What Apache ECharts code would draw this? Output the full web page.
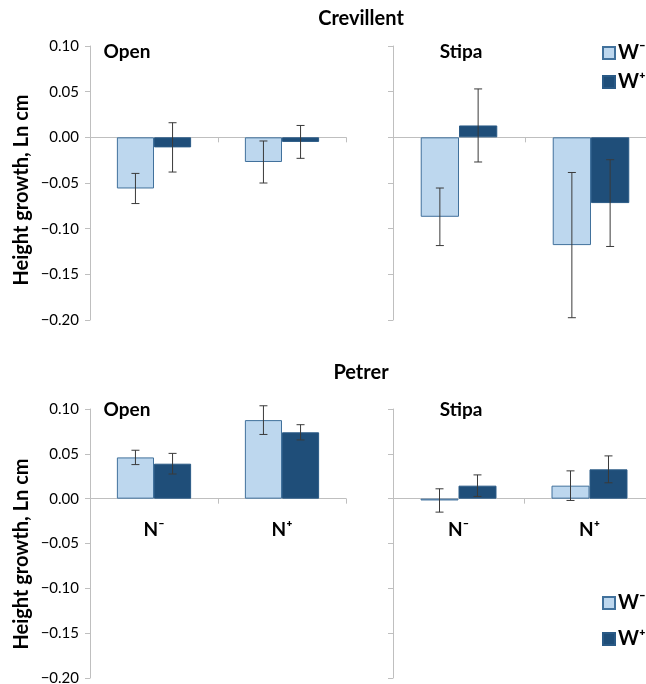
<!DOCTYPE html>
<html>
<head>
<meta charset="utf-8">
<script src="https://cdn.jsdelivr.net/npm/echarts@6/dist/echarts.min.js"></script>
<style>
  html, body { margin: 0; padding: 0; background: #fff; }
  #chart { width: 646px; height: 684px; }
</style>
</head>
<body>
<div id="chart"></div>
<script>
// categories and tick range
var categories = ['N\u207B', 'N\u207A'];
var yMin = -0.20, yMax = 0.10, yStep = 0.05;
var legendNames = ['W\u207B', 'W\u207A'];

// Crevillent, Open
var crevOpenWm = [-0.056, -0.027];
var crevOpenWmErr = [0.0165, 0.023];
var crevOpenWp = [-0.011, -0.005];
var crevOpenWpErr = [0.027, 0.018];
// Crevillent, Stipa
var crevStipaWm = [-0.087, -0.118];
var crevStipaWmErr = [0.0315, 0.0795];
var crevStipaWp = [0.013, -0.072];
var crevStipaWpErr = [0.040, 0.0475];
// Petrer, Open
var petOpenWm = [0.046, 0.0876];
var petOpenWmErr = [0.008, 0.016];
var petOpenWp = [0.039, 0.074];
var petOpenWpErr = [0.0115, 0.0085];
// Petrer, Stipa
var petStipaWm = [-0.002, 0.0145];
var petStipaWmErr = [0.013, 0.0165];
var petStipaWp = [0.0145, 0.0327];
var petStipaWpErr = [0.012, 0.015];

var FONT = 'Lato, "Open Sans", sans-serif';
var AXIS = '#bfbfbf';
var LIGHT = '#bdd7ee', LIGHT_EDGE = '#41719c';
var DARK = '#1f4e79', DARK_EDGE = '#2a5a86';
var GAP = 0.42;

var myChart = echarts.init(document.getElementById('chart'));

var grids = [
	{ left: 90, top: 46, width: 256, height: 274, outerBoundsMode: 'none' },
	{ left: 393, top: 46, width: 264, height: 274, outerBoundsMode: 'none' },
	{ left: 90, top: 409, width: 256, height: 269, outerBoundsMode: 'none' },
	{ left: 393, top: 409, width: 262, height: 269, outerBoundsMode: 'none' }
];

function fmt(v) {
	return (v < 0 ? '\u2212' : '') + Math.abs(v).toFixed(2);
}

// bottom panels: lift the whole category axis (line, ticks, labels) up to y = 0
function zeroOffset(g) {
	return -g.height * (0 - yMin) / (yMax - yMin);
}

function xAxisFor(i, showLabel) {
	var ax = {
		type: 'category', gridIndex: i, data: categories,
		axisLine: { onZero: true, lineStyle: { color: AXIS, width: 1 } },
		axisTick: { show: true, length: 5, lineStyle: { color: AXIS } },
		axisLabel: { show: showLabel, margin: 22, color: '#000', fontSize: 19,
			fontWeight: 'bold', fontFamily: FONT }
	};
	if (showLabel) {
		ax.axisLine.onZero = false;
		ax.offset = zeroOffset(grids[i]);
	}
	return ax;
}

function yAxisFor(i, showLabel) {
	return {
		type: 'value', gridIndex: i, min: yMin, max: yMax, interval: yStep,
		splitLine: { show: false },
		axisLine: { show: true, lineStyle: { color: AXIS, width: 1 } },
		axisTick: { show: true, length: 5, lineStyle: { color: AXIS } },
		axisLabel: { show: showLabel, margin: 11, color: '#000', fontSize: 15,
			fontFamily: FONT, formatter: fmt }
	};
}

function barSeries(i, name, vals, fill, edge) {
	return {
		type: 'bar', name: name, xAxisIndex: i, yAxisIndex: i, data: vals,
		barGap: '0%', barCategoryGap: (GAP * 100) + '%',
		itemStyle: { color: fill, borderColor: edge, borderWidth: 1 },
		emphasis: { disabled: true }, animation: false
	};
}

function errSeries(i, vals, errs, side) {
	return {
		type: 'custom', xAxisIndex: i, yAxisIndex: i, z: 10, silent: true,
		animation: false,
		data: vals.map(function(v, k) { return [k, v, errs[k]]; }),
		renderItem: function(params, api) {
			var band = api.coord([1, 0])[0] - api.coord([0, 0])[0];
			var bw = band * (1 - GAP) / 2;
			var x = api.coord([api.value(0), 0])[0] + side * bw / 2;
			var hi = api.coord([api.value(0), api.value(1) + api.value(2)])[1];
			var lo = api.coord([api.value(0), api.value(1) - api.value(2)])[1];
			var st = { stroke: '#3a3a3a', lineWidth: 1 };
			return {
				type: 'group',
				children: [
					{ type: 'line', shape: { x1: x, y1: hi, x2: x, y2: lo }, style: st },
					{ type: 'line', shape: { x1: x - 4, y1: hi, x2: x + 4, y2: hi }, style: st },
					{ type: 'line', shape: { x1: x - 4, y1: lo, x2: x + 4, y2: lo }, style: st }
				]
			};
		}
	};
}

var panels = [
	[crevOpenWm, crevOpenWmErr, crevOpenWp, crevOpenWpErr],
	[crevStipaWm, crevStipaWmErr, crevStipaWp, crevStipaWpErr],
	[petOpenWm, petOpenWmErr, petOpenWp, petOpenWpErr],
	[petStipaWm, petStipaWmErr, petStipaWp, petStipaWpErr]
];

var series = [];
panels.forEach(function(p, i) {
	series.push(barSeries(i, legendNames[0], p[0], LIGHT, LIGHT_EDGE));
	series.push(barSeries(i, legendNames[1], p[2], DARK, DARK_EDGE));
	series.push(errSeries(i, p[0], p[1], -1));
	series.push(errSeries(i, p[2], p[3], 1));
});

function label(text, x, y, size, rot) {
	return {
		type: 'text', x: x, y: y, rotation: rot || 0,
		style: { text: text, fill: '#000', font: 'bold ' + size + 'px ' + FONT,
			align: 'center', verticalAlign: 'middle' }
	};
}

function legendAt(top, gap) {
	return {
		data: legendNames, orient: 'vertical', left: 597, top: top,
		icon: 'rect', itemWidth: 12, itemHeight: 12, itemGap: gap,
		textStyle: { fontSize: 20, fontWeight: 'bold', color: '#000', fontFamily: FONT, padding: [0, 0, 0, -2] },
		selectedMode: false
	};
}

var option = {
	animation: false,
	grid: grids,
	xAxis: [xAxisFor(0, false), xAxisFor(1, false), xAxisFor(2, true), xAxisFor(3, true)],
	yAxis: [yAxisFor(0, true), yAxisFor(1, false), yAxisFor(2, true), yAxisFor(3, false)],
	legend: [legendAt(38, 9), legendAt(588, 16)],
	series: series,
	graphic: [
		label('Crevillent', 361, 19, 20),
		label('Petrer', 361, 373, 20),
		label('Open', 127, 52, 19),
		label('Stipa', 461, 52, 19),
		label('Open', 127, 410, 19),
		label('Stipa', 461, 410, 19),
		label('Height growth, Ln cm', 22, 190, 20, Math.PI / 2),
		label('Height growth, Ln cm', 22, 554, 20, Math.PI / 2)
	]
};

myChart.setOption(option);
</script>
</body>
</html>
